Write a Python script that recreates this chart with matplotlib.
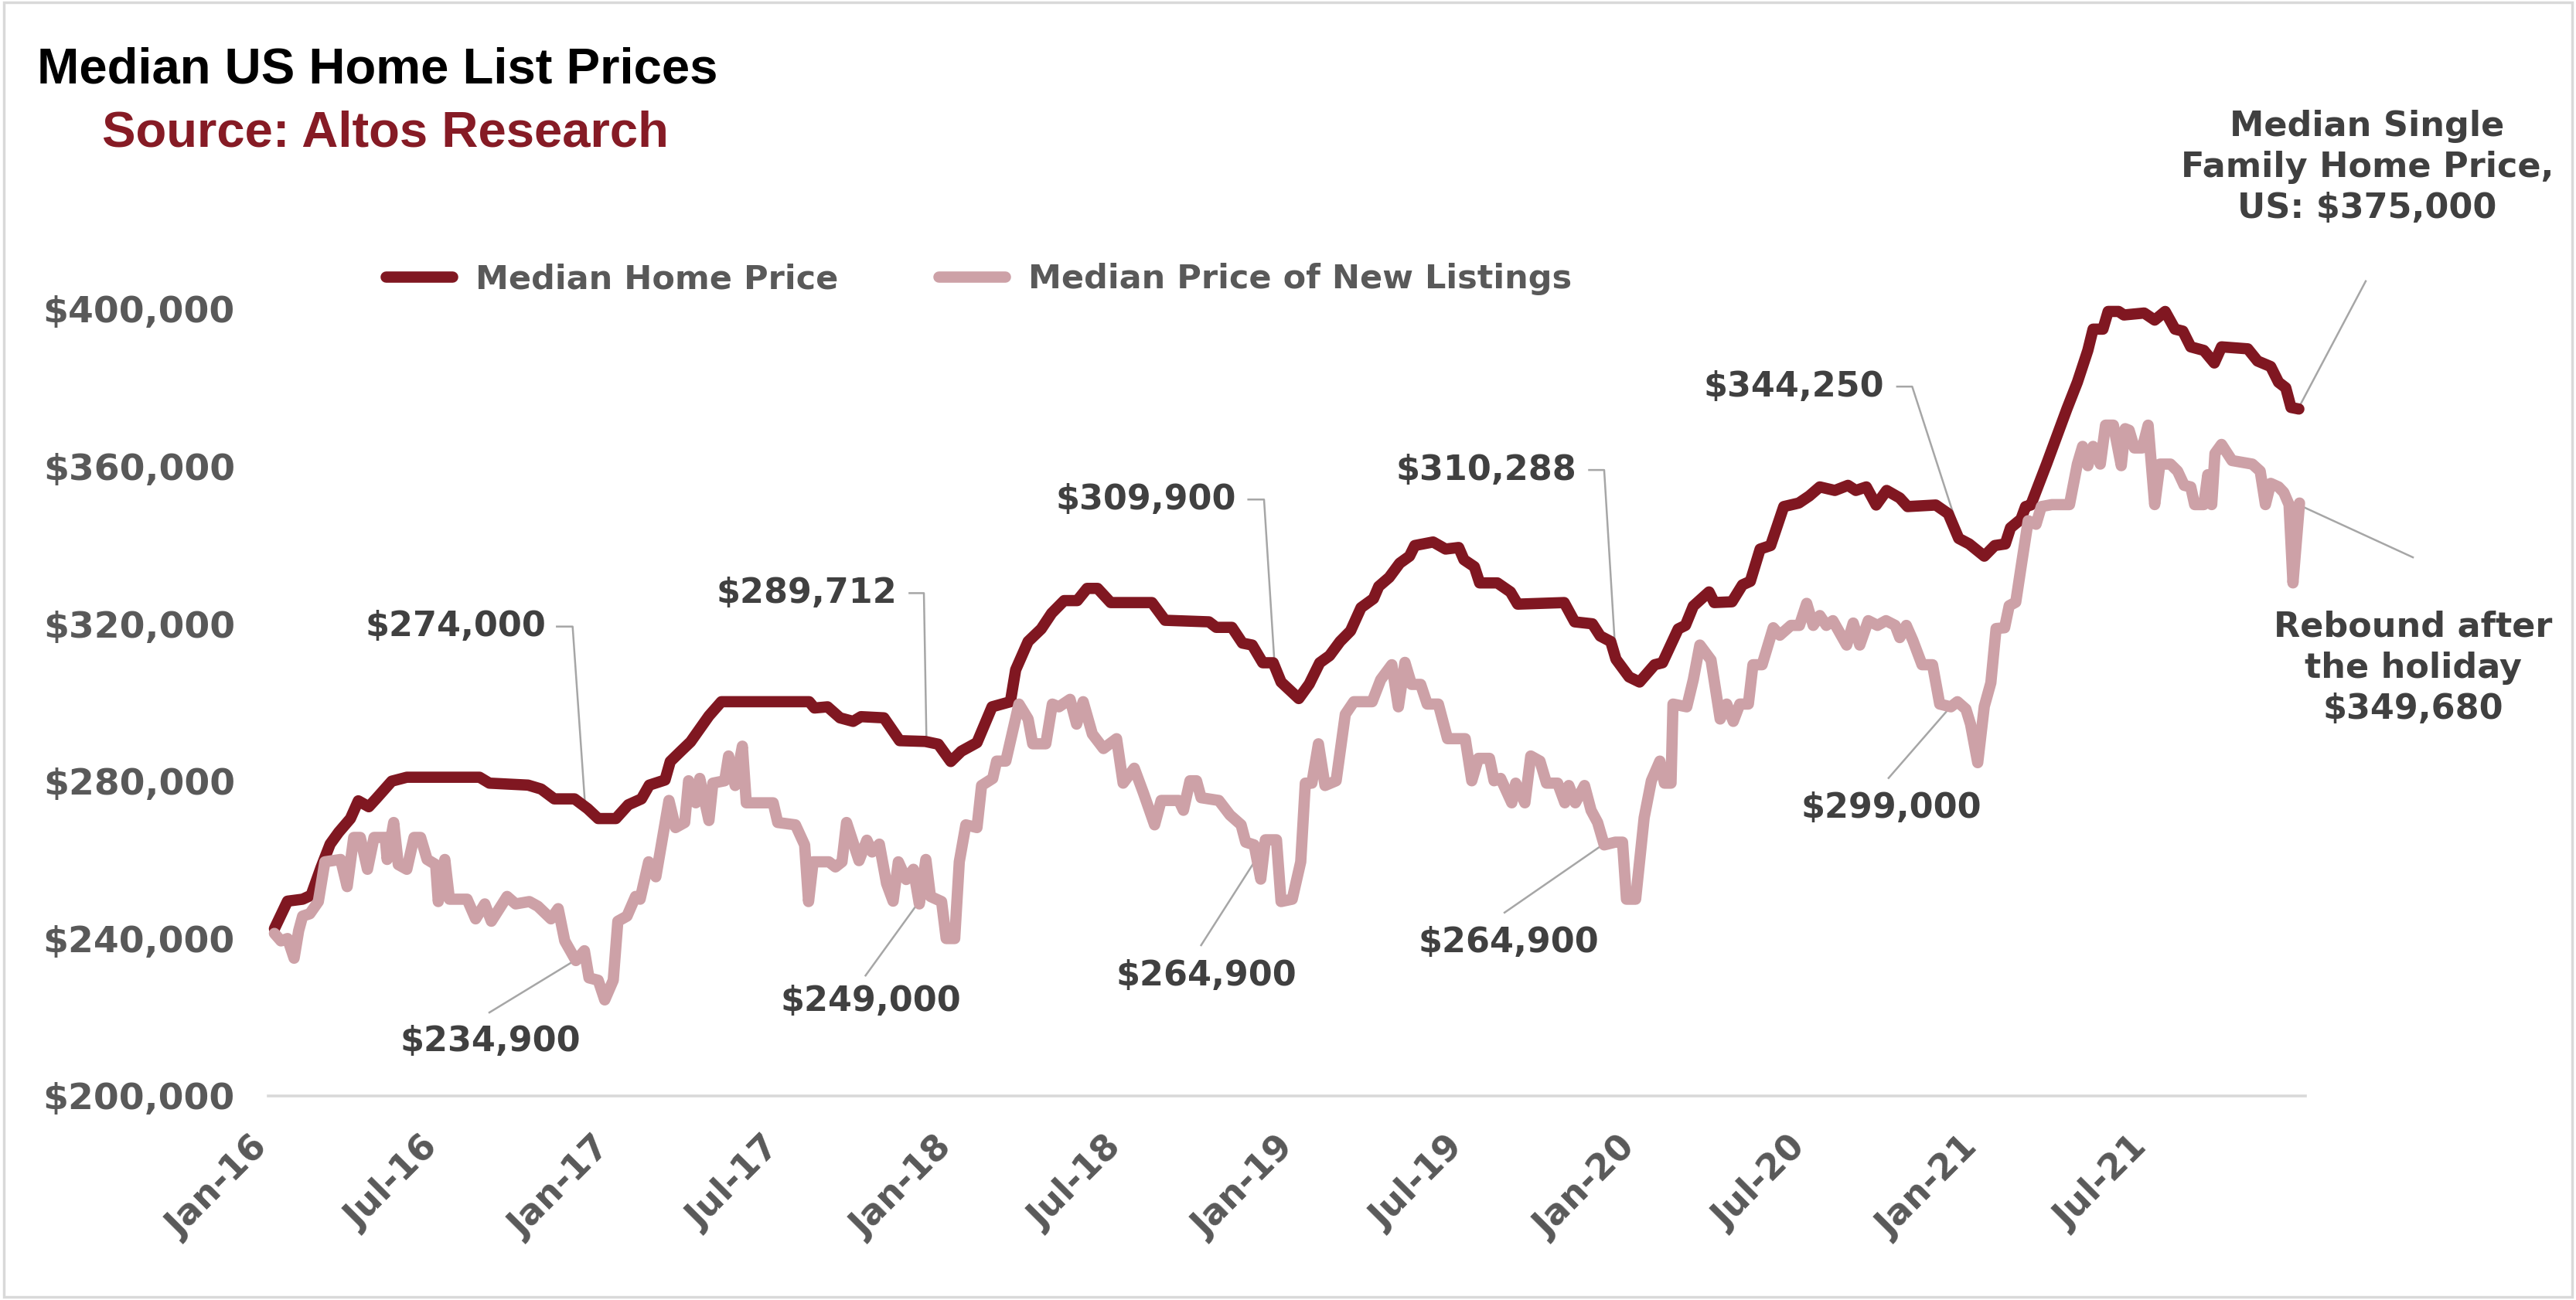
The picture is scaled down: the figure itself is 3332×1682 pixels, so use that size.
import numpy as np
import pandas as pd
import matplotlib
matplotlib.use("Agg")
import matplotlib.pyplot as plt
import matplotlib.dates as mdates
from matplotlib.patches import Rectangle
from matplotlib.ticker import FuncFormatter

plt.rcParams['font.family'] = ['DejaVu Sans']

# weekly data, x = weeks since 2016-01-01, y = $ thousands
start = pd.Timestamp("2016-01-01")

price_weeks = [0, 2, 4.3, 5.6, 7.1, 8.5, 9.8, 11.6, 12.8, 14.4, 15.5, 17.9, 20.2, 31.3, 32.8, 38.7,
               40.7, 42.7, 45.8, 47.8, 49.4, 52.1, 54, 56, 57.2, 59.6, 60.4, 62, 63.5, 66.3, 68.2,
               81.6, 82.4, 84.4, 86.3, 88.3, 89.5, 93, 95.4, 99.3, 101.3, 103.2, 104.8, 107.2,
               109.5, 112.3, 113.1, 115, 117, 118.6, 120.5, 122.5, 124, 125.6, 127.6, 133.9,
               135.9, 142.6, 143.7, 146.1, 147.7, 149.2, 150.8, 152.4, 153.6, 156.3, 157.9,
               159.5, 161, 162.6, 164.2, 165.8, 167.7, 168.5, 170.1, 171.7, 173.2, 174, 176.8,
               178.7, 180.7, 181.5, 183.1, 183.9, 186.6, 188.6, 189.7, 196.8, 198.4, 201.1,
               202.3, 203.9, 204.7, 206.7, 208.3, 210.6, 211.8, 214.2, 215.3, 216.5, 217.7,
               218.9, 219.7, 222.4, 224, 225.2, 226.7, 228.3, 230.3, 232.6, 234.2, 235.8, 238.1,
               240.1, 241.3, 242.9, 244.4, 246, 248, 249.2, 253.5, 255.4, 257, 258.6, 260.9,
               262.5, 264.1, 264.9, 266.5, 267.2, 268, 270.4, 272, 273.5, 275.1, 276.7, 277.5,
               279, 279.8, 281.4, 282.2, 285.3, 286.9, 288.5, 290, 291.2, 292.4, 294.4, 296,
               297.1, 301.1, 302.6, 304.6, 305.8, 306.9, 307.7, 308.9]
price_k = [242.5, 249.5, 250, 251, 258, 264, 267, 270.5, 275, 273.5, 275.5, 280, 281, 281, 279.5, 279,
           278, 275.5, 275.5, 273, 270.5, 270.5, 274, 275.5, 279, 280.3, 285, 287.6, 290, 296.6, 300.2,
           300.2, 298.6, 298.9, 296.1, 295.2, 296.4, 296.1, 290.3, 290.1, 289.4, 285, 287.6, 289.8,
           298.9, 300.2, 308.3, 315.5, 318.7, 322.7, 325.9, 325.9, 329, 329, 325.4, 325.4,
           320.9, 320.5, 319.1, 319.1, 315.1, 314.6, 310.1, 310.1, 305.2, 301, 304.7,
           310.1, 311.9, 315.5, 318.2, 324.1, 326.4, 329.5, 331.8, 335.4, 337.2, 339.9, 340.8,
           339, 339.4, 336.3, 334.5, 330.4, 330.4, 328.1, 325, 325.4, 320.5, 320,
           316.9, 315.5, 311, 306.5, 305.2, 309.6, 310.1, 318.7, 319.6, 324.5, 326.3,
           328.1, 325.4, 325.6, 329.9, 330.8, 339, 339.9, 349.8, 350.7, 352.5, 354.8, 353.9,
           355.2, 353.9, 354.8, 350.2, 353.9, 352, 349.8, 350.2, 348, 341.7, 340.3, 337.2,
           339.9, 340.3, 344.4, 346.6, 349.8, 350.2, 360.6, 367.8, 374.6, 381.4, 389.5, 394.9,
           394.9, 399.4, 399.4, 398.5, 399, 397.2, 399.4, 394.9, 394.4, 390.4, 389.5, 386.3,
           390.4, 389.9, 386.8, 385.4, 381.4, 380, 375, 374.6]

listing_weeks = [0, 1, 2, 3, 3.7, 4.3, 5.4, 6.7, 7.7, 10.1, 11.1, 12.1, 13.1, 14.2, 15.2, 16.9, 17.2,
                 18.2, 18.9, 20.2, 21.3, 22.3, 23.3, 24.6, 25, 26, 26.7, 29.4, 30.7, 32.1, 33.1,
                 35.5, 36.8, 38.9, 40.2, 42.2, 43.3, 44.3, 46, 47.3, 48, 49.4, 50.4, 51.7, 52.4,
                 53.8, 55.1, 55.8, 57.1, 58.2, 60.2, 61.2, 62.6, 63.2, 64.3, 64.9, 66.3, 66.9,
                 68.7, 69.3, 70.3, 71.4, 72, 76.1, 76.8, 79.5, 80.9, 81.5, 82.2, 84.6, 85.6, 86.6,
                 87.3, 89.2, 90.4, 91.2, 92.3, 93.4, 94.4, 95.2, 96.4, 97.5, 98.4, 99.4, 100.1,
                 101.8, 102.5, 103.8, 104.5, 105.5, 107.2, 107.9, 109.6, 110.2, 111.6, 113.6, 115,
                 115.7, 117.7, 118.7, 119.7, 121.4, 122.4, 123.4, 124.8, 126.5, 128.5, 129.5,
                 131.2, 132.6, 134.3, 135.3, 138, 138.7, 139.7, 140.7, 141.4, 144.1, 145.8, 147.5,
                 148.2, 149.5, 150.5, 151.2, 152.9, 153.6, 155.3, 156.6, 157.3, 158.3, 159.3,
                 160.3, 162, 163.4, 164.7, 167.5, 168.8, 170.5, 171.5, 172.5, 173.5, 174.9, 175.9,
                 177.6, 179, 181.7, 182.7, 183.7, 185.4, 186.1, 187.1, 188.8, 189.4, 190.8, 191.7,
                 193.1, 194.1, 195.8, 196.9, 197.5, 198.5, 199.9, 200.9, 201.9, 202.9, 204.6,
                 205.7, 206.3, 207.7, 209, 210.1, 211.4, 212.1, 213.1, 213.4, 215.5, 216.5, 217.5,
                 219.2, 220.6, 221.6, 222.6, 223.6, 224.9, 225.6, 227, 228.7, 229.7, 231.4, 232.7,
                 233.8, 234.8, 235.8, 236.8, 237.8, 239.9, 240.9, 241.9, 243.2, 244.6, 245.9,
                 247.3, 248, 249, 250, 251.4, 253, 254.1, 255.8, 256.8, 258.1, 258.8, 259.9,
                 260.9, 261.9, 262.7, 264, 264.7, 265.7, 266.6, 267.6, 268.8, 269.6, 271.2, 273.9,
                 275.1, 275.9, 276.7, 277.5, 278.6, 279.4, 280.6, 281.8, 282.4, 283, 283.8, 285,
                 285.9, 286.9, 287.7, 289.3, 290.4, 291.4, 292.4, 293, 294.4, 295, 295.6, 296.1,
                 297.1, 298.7, 301.8, 303, 303.8, 304.6, 305.8, 306.6, 307.4, 308, 309]
listing_k = [241.3, 239.4, 240, 235, 242, 245.7, 246.3, 249.4, 259.5, 260.1, 253.2, 265.7, 265.7, 257.6,
             265.7, 265.7, 260.1, 269.5, 258.8, 257.6, 265.7, 265.7, 260.1, 258.8, 249.4, 260.1, 250,
             250, 245, 248.8, 244.4, 250.7, 248.8, 249.4, 248.2, 245, 247.6, 239.4, 234.4, 236.9,
             230, 229.4, 224.4, 229.4, 244.4, 245.7, 250.7, 250, 259.5, 255.7, 275.1, 268.2, 269.5,
             280.1, 274.5, 280.7, 270, 279.5, 280.1, 286.4, 278.9, 288.9, 274.5, 274.5, 269.5,
             268.9, 263.8, 249.4, 259.5, 259.5, 258.2, 259.5, 269.5, 259.8, 265, 262, 264, 254,
             249.5, 259.5, 255, 257.6, 248.8, 260.1, 250.7, 249.4, 240, 240, 259.5, 268.9, 268.2,
             278.9, 280.7, 285.1, 285.1, 299.6, 295.8, 289.5, 289.5, 299.6, 298.9, 300.8, 294.5,
             300.2, 292, 288.3, 290.8, 279.5, 283.3, 277, 268.9, 275.1, 275.1, 272.6, 280.1,
             280.1, 275.8, 275.1, 271.4, 268.9, 264.5, 263.8, 255.1, 265.1, 265.1, 249.4, 250,
             259.5, 279.5, 279.5, 289.5, 278.9, 280.1, 297, 300.2, 300.2, 305.8, 309.6, 298.9,
             310.2, 304.6, 304.6, 299.6, 299.6, 290.8, 290.8, 280.1, 285.8, 285.8, 280.1, 280.7,
             274.5, 279.5, 274.5, 286.4, 285.1, 279.5, 279.5, 274.5, 278.9, 274.5, 278.9, 272.6,
             269.5, 263.8, 264.5, 264.5, 250, 250, 270.7, 280.1, 285.1, 279.5, 279.5, 299.6,
             298.9, 305.8, 314.6, 310.8, 295.8, 299.6, 295.2, 299.6, 299.6, 309.6, 309.6, 319,
             317.1, 319.6, 319.6, 325.2, 319.6, 322.1, 319.6, 320.8, 314.6, 320.2, 314.6, 320.8,
             319.6, 320.8, 319.6, 316.5, 319.6, 315.8, 309.6, 309.6, 299.6, 298.9, 300.2, 298.3,
             294.5, 284.7, 299, 305, 318.8, 319, 324.6, 325.5, 335.4, 346.2, 345.3, 349.8, 350.3,
             350.3, 360.6, 365.1, 360.2, 365.1, 360.6, 370.5, 370.5, 360.2, 369.6, 369.2, 364.7,
             364.7, 370.5, 350.3, 360.6, 360.6, 358.8, 355.2, 354.8, 350.3, 350.3, 357.9, 350.3,
             363.3, 365.6, 361.5, 360.6, 358.8, 350.3, 355.7, 354.8, 353.4, 350.3, 330.4, 350.7]

series_names = ["Median Home Price", "Median Price of New Listings"]
y_ticks = [200000, 240000, 280000, 320000, 360000, 400000]

# callouts: label, week of the point, value it points to
callout_labels = ["$274,000", "$289,712", "$309,900", "$310,288", "$344,250",
                  "$234,900", "$249,000", "$264,900", "$264,900", "$299,000",
                  "Median Single\nFamily Home Price,\nUS: $375,000",
                  "Rebound after\nthe holiday\n$349,680"]
callout_weeks = [47.4, 99.5, 152.6, 204.7, 256.9, 46.3, 98.2, 151.6, 203.6, 255.8, 308.9, 309.6]
callout_values = [274000, 289712, 309900, 310288, 344250, 234900, 249000, 264900, 264900, 299000,
                  375000, 349680]

# layout of the callouts (weeks, $k): text anchor, elbow / end of leader
label_pos = [(41.5, 319.3), (95.0, 327.8), (146.8, 351.6), (198.7, 359.1), (245.6, 380.3),
             (33.0, 213.9), (91.0, 224.0), (142.2, 230.6), (188.3, 238.9), (246.7, 273.2),
             (319.3, 436.0), (326.3, 308.8)]
leader_pts = [[(43.1, 319.3), (45.5, 319.3)], [(96.9, 327.8), (99.1, 327.8)],
              [(148.6, 351.6), (151.0, 351.6)], [(200.6, 359.1), (202.9, 359.1)],
              [(247.6, 380.3), (249.9, 380.3)], [(32.8, 221.2)], [(90.2, 230.6)],
              [(141.4, 238.3)], [(187.7, 246.6)], [(246.3, 280.8)], [(319.1, 407.1)],
              [(326.3, 336.9)]]


def wk(w):
    w = np.atleast_1d(np.asarray(w, dtype=float))
    return mdates.date2num(start + pd.to_timedelta(w * 7, unit="D"))


RED = "#801721"
PINK = "#CDA1A7"
TICK_GRAY = "#595959"
TEXT_GRAY = "#404040"

fig = plt.figure(figsize=(33.32, 16.82), dpi=100)
ax = fig.add_axes([0.10414, 0.157, 0.79082, 0.6355])

ax.plot(wk(price_weeks), np.array(price_k) * 1000, color=RED, lw=10.5,
        solid_capstyle="round", solid_joinstyle="round", label=series_names[0], zorder=3)
ax.plot(wk(listing_weeks), np.array(listing_k) * 1000, color=PINK, lw=10.5,
        solid_capstyle="round", solid_joinstyle="round", label=series_names[1], zorder=4)

ax.set_xlim(wk(-0.94)[0], wk(309.9)[0])
ax.set_ylim(200000, 410000)

# axes styling
for s in ["top", "right", "left"]:
    ax.spines[s].set_visible(False)
ax.spines["bottom"].set_color("#D9D9D9")
ax.spines["bottom"].set_linewidth(2.6)

ax.set_yticks(y_ticks)
ax.yaxis.set_major_formatter(FuncFormatter(lambda v, p: f"${v:,.0f}"))
ax.tick_params(axis="y", length=0, pad=31, labelsize=34, labelcolor=TICK_GRAY)

ax.xaxis.set_major_locator(mdates.MonthLocator(bymonth=[1, 7]))
ax.xaxis.set_major_formatter(mdates.DateFormatter("%b-%y"))
ax.tick_params(axis="x", length=0, pad=32, labelsize=33, labelcolor=TICK_GRAY)
for lbl in ax.get_xticklabels():
    lbl.set_rotation(45)
    lbl.set_ha("right")
for lbl in ax.get_xticklabels() + ax.get_yticklabels():
    lbl.set_fontweight("bold")

leg = ax.legend(ncol=2, loc="center left", bbox_to_anchor=(0.1498, 1 - 361 / 1682),
                bbox_transform=fig.transFigure, frameon=False,
                prop={"size": 31, "weight": "bold"}, labelcolor=TICK_GRAY,
                handlelength=2.0, handletextpad=0.7, columnspacing=3.0,
                borderpad=0, borderaxespad=0)

# callouts with grey leader lines
for i, text in enumerate(callout_labels):
    tx, ty = label_pos[i]
    pts = leader_pts[i]
    if i < 5:
        xs = [p[0] for p in pts] + [callout_weeks[i]]
        ys = [p[1] * 1000 for p in pts] + [callout_values[i]]
        ha = "right"
    else:
        xs = [callout_weeks[i]] + [p[0] for p in pts]
        ys = [callout_values[i]] + [p[1] * 1000 for p in pts]
        ha = "center"
    ax.plot(wk(xs), ys, color="#A6A6A6", lw=1.8, clip_on=False, zorder=2)
    ax.text(wk(tx)[0], ty * 1000, text, ha=ha, va="center", fontsize=32,
            fontweight="bold", color=TEXT_GRAY, linespacing=1.3,
            multialignment="center", clip_on=False, zorder=5)

# titles
fig.text(48 / 3332, 1 - 107 / 1682, "Median US Home List Prices", fontsize=47,
         fontweight="bold", color="black", family="Liberation Sans", va="baseline")
fig.text(132 / 3332, 1 - 190 / 1682, "Source: Altos Research", fontsize=47,
         fontweight="bold", color="#861B25", family="Liberation Sans", va="baseline")

# chart-area border
fig.add_artist(Rectangle((5 / 3332, 4 / 1682), 1 - 10 / 3332, 1 - 7 / 1682,
                         transform=fig.transFigure, fill=False,
                         edgecolor="#D9D9D9", lw=2.5))

fig.savefig("out.png", dpi=100)
